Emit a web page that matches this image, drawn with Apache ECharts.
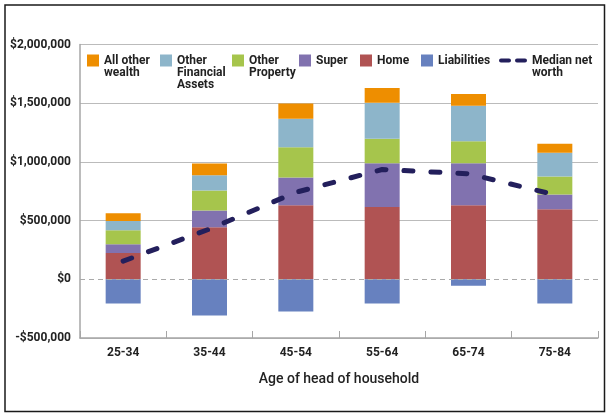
<!DOCTYPE html>
<html><head><meta charset="utf-8">
<script src="https://cdn.jsdelivr.net/npm/echarts@6/dist/echarts.min.js"></script>
<style>html,body{margin:0;padding:0;background:#fff}#c{width:607px;height:416px}</style>
</head><body><div id="c"></div>
<script>
const categories = ['25-34', '35-44', '45-54', '55-64', '65-74', '75-84'];
const home = [223000, 443000, 630000, 615000, 630000, 596000];
const superAnn = [76000, 144000, 237000, 373000, 358000, 127000];
const otherProperty = [119000, 170000, 257000, 209000, 187000, 152000];
const otherFinancial = [79000, 129000, 243000, 306000, 303000, 204000];
const allOther = [65000, 100000, 130000, 126000, 101000, 76000];
const liabilities = [-207000, -308000, -275000, -207000, -54000, -207000];
const medianNetWorth = [155000, 428000, 741000, 935000, 899000, 720000];
const yMin = -500000, yMax = 2000000, yStep = 500000;
const legendLabels = {
  'All other wealth': 'All other\nwealth',
  'Other Financial Assets': 'Other\nFinancial\nAssets',
  'Other Property': 'Other\nProperty',
  'Super': 'Super',
  'Home': 'Home',
  'Liabilities': 'Liabilities',
  'Median net worth': 'Median net\nworth'
};

const FONT = 'Roboto';
const TXT = '#222';
const LH = 12.4;
const ICON_CY = 60.5;
function leg(name, left, extra) {
  const lines = legendLabels[name].split('\n');
  const n = lines.length;
  const ih = (extra && extra.itemHeight) || 12;
  // pad with blank lines on top so the first real line sits level with the icon
  const padded = new Array(n - 1).fill(' ').concat(lines).join('\n');
  const boxTop = ih / 2 - (2 * n - 1) * LH / 2;
  return Object.assign({
    data: [name],
    left: left,
    top: ICON_CY - ih / 2 + Math.min(0, boxTop),
    padding: 0,
    itemWidth: 12, itemHeight: 12,
    icon: 'rect',
    selectedMode: false,
    formatter: () => padded,
    textStyle: {fontFamily: FONT, fontWeight: 'bold', fontSize: 12, color: TXT, lineHeight: LH}
  }, extra || {});
}
function fmt(v) {
  const s = Math.abs(v).toString().replace(/\B(?=(\d{3})+(?!\d))/g, ',');
  return (v < 0 ? '-$' : '$') + s;
}
const chart = echarts.init(document.getElementById('c'), null, {renderer: 'canvas'});
const barCommon = {type: 'bar', stack: 'total', barWidth: 35, emphasis: {disabled: true}};
chart.setOption({
  animation: false,
  backgroundColor: '#fff',
  grid: {left: 80, right: 9, top: 44.5, bottom: 78, containLabel: false},
  graphic: [{type: 'rect', shape: {x: 5, y: 5, width: 599.5, height: 406.5},
    style: {fill: 'none', stroke: '#1a1a1a', lineWidth: 1.5}, z: 100}],
  legend: [
    leg('All other wealth', 87),
    leg('Other Financial Assets', 160),
    leg('Other Property', 232),
    leg('Super', 299),
    leg('Home', 360),
    leg('Liabilities', 421),
    leg('Median net worth', 499, {itemWidth: 28, itemHeight: 4,
      icon: 'path://M2,0 H10 A2,2 0 0 1 10,4 H2 A2,2 0 0 1 2,0 Z M18,0 H26 A2,2 0 0 1 26,4 H18 A2,2 0 0 1 18,0 Z',
      itemStyle: {color: '#231F5C'}})
  ],
  xAxis: {
    type: 'category', data: categories,
    axisLine: {onZero: false, lineStyle: {color: '#a6a6a6', width: 1.5}},
    axisTick: {show: true, inside: true, length: 7, lineStyle: {color: '#a6a6a6', width: 1}},
    axisLabel: {margin: 9, fontFamily: FONT, fontWeight: 'bold', fontSize: 12, color: TXT},
    name: 'Age of head of household', nameLocation: 'middle', nameGap: 34,
    nameTextStyle: {fontFamily: FONT, fontWeight: 500, fontSize: 14, color: TXT}
  },
  yAxis: {
    type: 'value', min: yMin, max: yMax, interval: yStep,
    axisLine: {show: true, lineStyle: {color: '#a6a6a6', width: 1.5}},
    axisTick: {show: false},
    axisLabel: {margin: 9, formatter: fmt, fontFamily: FONT, fontWeight: 'bold', fontSize: 12, color: TXT},
    splitLine: {show: true, lineStyle: {color: ['#bbbbbb', 'rgba(0,0,0,0)', '#bbbbbb', '#bbbbbb', '#bbbbbb', '#bbbbbb'], width: 1.2}}
  },
  series: [
    {type: 'line', name: 'zero', data: [], z: 1, silent: true,
      markLine: {silent: true, symbol: 'none', label: {show: false},
        lineStyle: {type: [5, 4], color: '#aaaaaa', width: 1}, data: [{yAxis: 0}]}},
    Object.assign({name: 'Home', data: home, itemStyle: {color: '#B05353'}}, barCommon),
    Object.assign({name: 'Super', data: superAnn, itemStyle: {color: '#8172AF'}}, barCommon),
    Object.assign({name: 'Other Property', data: otherProperty, itemStyle: {color: '#A6C54C'}}, barCommon),
    Object.assign({name: 'Other Financial Assets', data: otherFinancial, itemStyle: {color: '#8DB5CA'}}, barCommon),
    Object.assign({name: 'All other wealth', data: allOther, itemStyle: {color: '#EE8E00'}}, barCommon),
    Object.assign({name: 'Liabilities', data: liabilities, itemStyle: {color: '#6781BF'}}, barCommon),
    {type: 'line', name: 'Median net worth', data: medianNetWorth, symbol: 'none', z: 5,
      lineStyle: {color: '#231F5C', width: 5, type: [9, 18], cap: 'round'},
      itemStyle: {color: '#231F5C'}, emphasis: {disabled: true}}
  ]
});
</script></body></html>
